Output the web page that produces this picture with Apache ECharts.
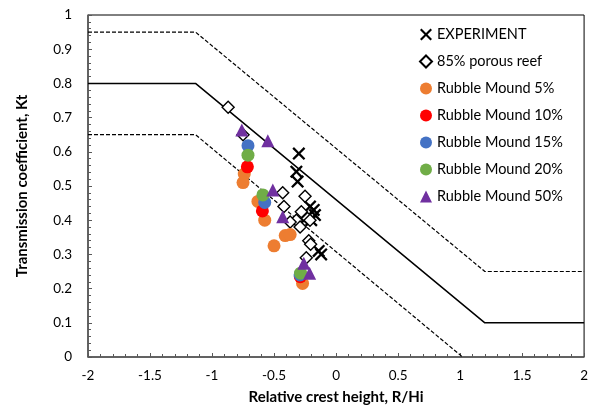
<!DOCTYPE html>
<html>
<head>
<meta charset="utf-8">
<script src="https://cdn.jsdelivr.net/npm/echarts@6/dist/echarts.min.js"></script>
<style>
  html, body { margin: 0; padding: 0; background: #fff; }
  #chart { width: 591px; height: 416px; }
</style>
</head>
<body>
<div id="chart"></div>
<script>
// design lines (R/Hi, Kt) vertices
const upperBound = [[-2, 0.95], [-1.133, 0.95], [1.2, 0.25], [2, 0.25]]
const meanLine = [[-2, 0.8], [-1.133, 0.8], [1.2, 0.1], [2, 0.1]]
const lowerBound = [[-2, 0.65], [-1.133, 0.65], [1.02, 0]]

// measured / compared points
const experiment = [
  [-0.30, 0.595], [-0.32, 0.542], [-0.31, 0.513], [-0.21, 0.44], [-0.18, 0.43],
  [-0.23, 0.41], [-0.17, 0.415], [-0.20, 0.40], [-0.14, 0.31], [-0.12, 0.30]
]
const porousReef = [
  [-0.87, 0.73], [-0.75, 0.65], [-0.43, 0.48], [-0.42, 0.44], [-0.25, 0.47],
  [-0.28, 0.425], [-0.32, 0.40], [-0.37, 0.395], [-0.23, 0.405], [-0.29, 0.38],
  [-0.21, 0.40], [-0.22, 0.34], [-0.205, 0.33], [-0.24, 0.29]
]
const rubble5 = [
  [-0.74, 0.535], [-0.75, 0.51], [-0.63, 0.455], [-0.575, 0.40], [-0.50, 0.325],
  [-0.41, 0.355], [-0.37, 0.358], [-0.27, 0.215]
]
const rubble10 = [[-0.715, 0.556], [-0.594, 0.427], [-0.288, 0.235]]
const rubble15 = [[-0.71, 0.618], [-0.575, 0.452], [-0.29, 0.24]]
const rubble20 = [[-0.71, 0.59], [-0.59, 0.474], [-0.286, 0.245]]
const rubble50 = [
  [-0.76, 0.664], [-0.55, 0.632], [-0.51, 0.488], [-0.43, 0.41], [-0.26, 0.274], [-0.213, 0.245]
]

// bold X shape, arms 2 units wide on a 12 unit box
const crossPath = 'path://M0,1.5L1.5,0L6,4.5L10.5,0L12,1.5L7.5,6L12,10.5L10.5,12L6,7.5L1.5,12L0,10.5L4.5,6Z'
const font = 'Lato, "Liberation Sans", sans-serif'

const chart = echarts.init(document.getElementById('chart'))

const lineSeries = (data, dashed, width) => ({
  type: 'line',
  data: data,
  showSymbol: false,
  silent: true,
  z: 1,
  lineStyle: { color: '#000', width: width, type: dashed ? [4, 2] : 'solid' }
})

const option = {
  animation: false,
  textStyle: { fontFamily: font },
  grid: {
    left: 88, right: 6, top: 15, bottom: 59,
    show: true, borderColor: '#000', borderWidth: 1
  },
  legend: {
    orient: 'vertical',
    left: 414,
    top: 22,
    itemWidth: 12,
    itemHeight: 12,
    itemGap: 12,
    textStyle: { fontFamily: font, fontSize: 14.5, color: '#000' },
    data: ['EXPERIMENT', '85% porous reef', 'Rubble Mound 5%', 'Rubble Mound 10%',
      'Rubble Mound 15%', 'Rubble Mound 20%', 'Rubble Mound 50%']
  },
  xAxis: {
    type: 'value',
    min: -2, max: 2, interval: 0.5,
    name: 'Relative crest height, R/Hi',
    nameLocation: 'middle',
    nameGap: 33,
    nameTextStyle: { fontFamily: font, fontSize: 15, fontWeight: 'bold', color: '#000' },
    axisLine: { onZero: false, lineStyle: { color: '#595959', width: 1.5 } },
    axisTick: { inside: true, length: 4, lineStyle: { color: '#595959' } },
    minorTick: { show: true, splitNumber: 5, length: 3, lineStyle: { color: '#595959' } },
    axisLabel: { fontFamily: font, fontSize: 13.5, color: '#000', margin: 12 },
    splitLine: { show: false }
  },
  yAxis: {
    type: 'value',
    min: 0, max: 1, interval: 0.1,
    name: 'Transmission coefficient, Kt',
    nameLocation: 'middle',
    nameGap: 58,
    nameTextStyle: { fontFamily: font, fontSize: 15, fontWeight: 'bold', color: '#000' },
    axisLine: { onZero: false, lineStyle: { color: '#595959', width: 1.5 } },
    axisTick: { inside: true, length: 4, lineStyle: { color: '#595959' } },
    minorTick: { show: true, splitNumber: 5, length: 3, lineStyle: { color: '#595959' } },
    axisLabel: { fontFamily: font, fontSize: 13.5, color: '#000', margin: 16 },
    splitLine: { show: false }
  },
  series: [
    lineSeries(upperBound, true, 1.2),
    lineSeries(meanLine, false, 1.5),
    lineSeries(lowerBound, true, 1.2),
    {
      name: 'EXPERIMENT', type: 'scatter', data: experiment, z: 3,
      symbol: crossPath, symbolSize: 13,
      itemStyle: { color: '#000', opacity: 1 }
    },
    {
      name: '85% porous reef', type: 'scatter', data: porousReef, z: 3,
      symbol: 'diamond', symbolSize: 12,
      itemStyle: { color: '#fff', borderColor: '#000', borderWidth: 1.4, opacity: 1 }
    },
    {
      name: 'Rubble Mound 5%', type: 'scatter', data: rubble5, z: 3,
      symbol: 'circle', symbolSize: 13, itemStyle: { color: '#ED7D31', opacity: 1 }
    },
    {
      name: 'Rubble Mound 10%', type: 'scatter', data: rubble10, z: 3,
      symbol: 'circle', symbolSize: 13, itemStyle: { color: '#FF0000', opacity: 1 }
    },
    {
      name: 'Rubble Mound 15%', type: 'scatter', data: rubble15, z: 3,
      symbol: 'circle', symbolSize: 13, itemStyle: { color: '#4472C4', opacity: 1 }
    },
    {
      name: 'Rubble Mound 20%', type: 'scatter', data: rubble20, z: 3,
      symbol: 'circle', symbolSize: 13, itemStyle: { color: '#70AD47', opacity: 1 }
    },
    {
      name: 'Rubble Mound 50%', type: 'scatter', data: rubble50, z: 3,
      symbol: 'triangle', symbolSize: 13, itemStyle: { color: '#7030A0', opacity: 1 }
    }
  ]
}

chart.setOption(option)
</script>
</body>
</html>
